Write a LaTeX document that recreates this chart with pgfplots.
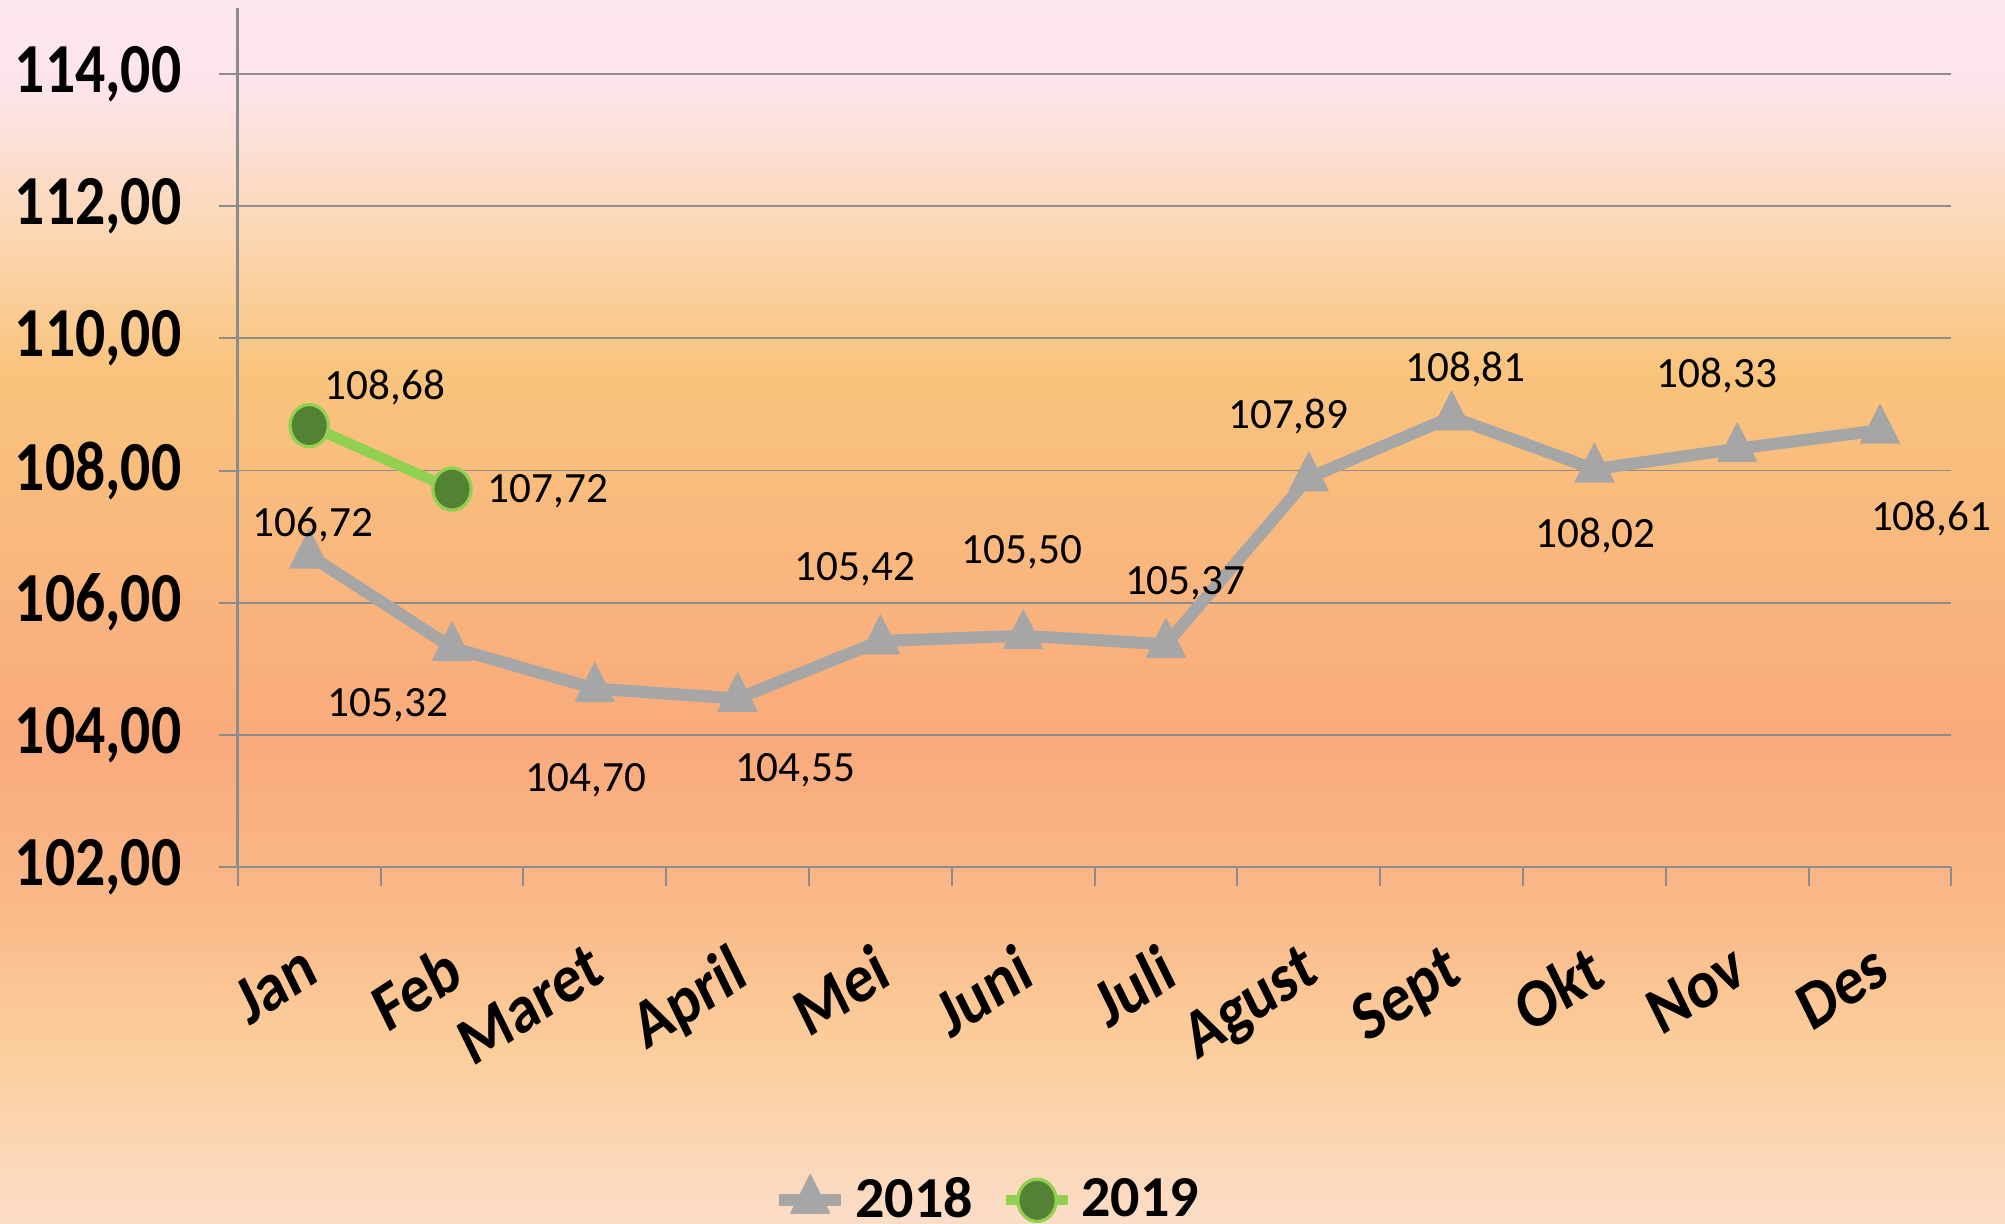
\documentclass[border=0pt]{standalone}
\usepackage{pgfplots}
\pgfplotsset{compat=1.18}
\usepackage{pgfplotstable}
\usepackage{fontspec}
\setmainfont{Carlito}
\definecolor{cTop}{HTML}{FDE7F0}
\definecolor{cA}{HTML}{FDE4EA}
\definecolor{cB}{HTML}{FBD7B4}
\definecolor{cC}{HTML}{F9C47D}
\definecolor{cD}{HTML}{F9B77D}
\definecolor{cE}{HTML}{F9AA7C}
\definecolor{cF}{HTML}{FAB888}
\definecolor{cG}{HTML}{FBCE9C}
\definecolor{cBot}{HTML}{FCDDC8}
\definecolor{axgray}{HTML}{8C8C8C}
\definecolor{c18}{HTML}{A6A6A6}
\definecolor{c19}{HTML}{92D050}
\definecolor{c19f}{HTML}{548235}
\pgfdeclareverticalshading{bgshade}{100bp}{color(0bp)=(cBot); color(25bp)=(cBot); color(32.1bp)=(cG); color(38.2bp)=(cF); color(44.75bp)=(cE); color(52.1bp)=(cD); color(59.9bp)=(cC); color(65.6bp)=(cB); color(71.3bp)=(cA); color(75bp)=(cTop); color(100bp)=(cTop)}
\pgfplotstableread{
x y lab dx dy
0 106.72 106,72 0.96 7.7
1 105.32 105,32 -16.0 -14.4
2 104.70 104,70 -2.2 -23.0
3 104.55 104,55 14.4 -17.9
4 105.42 105,42 -6.4 17.9
5 105.50 105,50 -0.3 20.8
6 105.37 105,37 4.8 15.3
7 107.89 107,89 -5.1 15.3
8 108.81 108,81 3.5 11.8
9 108.02 108,02 0.3 -16.6
10 108.33 108,33 -5.1 18.2
11 108.61 108,61 12.8 -22.1
}\dataA
\pgfplotstableread{
x y lab dx dy
0 108.68 108,68 18.9 9.6
1 107.72 107,72 24.0 -0.6
}\dataB
\begin{document}
\begin{tikzpicture}
\shade[shading=bgshade] (0,0) rectangle (501.25pt,305.75pt);
\begin{axis}[
  at={(59.45pt,89pt)}, anchor=south west,
  scale only axis, width=428.4pt, height=214.75pt,
  xmin=-0.5, xmax=11.5, ymin=102, ymax=115,
  axis x line*=bottom, axis y line*=left,
  axis line style={draw=axgray, line width=0.65pt},
  tick align=outside,
  major tick length=4.75pt,
  tick style={draw=axgray, line width=0.5pt},
  ymajorgrids=true,
  major grid style={draw=axgray, line width=0.45pt},
  ytick={102,104,106,108,110,112,114},
  yticklabel style={font=\fontsize{14.9}{16}\selectfont\bfseries, anchor=east, inner sep=0pt, xshift=-9.2pt, yscale=1.18,
    /pgf/number format/.cd, fixed, fixed zerofill, precision=2, use comma, 1000 sep={}, assume math mode=true},
  xtick={-0.5,0.5,1.5,2.5,3.5,4.5,5.5,6.5,7.5,8.5,9.5,10.5,11.5},
  xticklabels={Jan,Feb,Maret,April,Mei,Juni,Juli,Agust,Sept,Okt,Nov,Des,{}},
  xticklabel style={font=\fontsize{15}{16}\selectfont\bfseries, inner sep=0pt, xshift=16pt, yshift=-13.5pt, yscale=1.15, rotate=29.5, anchor=north east},
  clip=false,
  legend columns=2,
  legend style={at={(0.439,-0.388)}, anchor=center, draw=none, fill=none,
    font=\fontsize{14.5}{16}\selectfont\bfseries,
    /tikz/every even column/.append style={column sep=5pt}},
  legend image code/.code={\draw[#1] (0pt,0pt) -- (15.5pt,0pt); \draw[#1, only marks] plot coordinates {(7.75pt,0pt)};},
  nodes near coords style={font=\fontsize{10.8}{12}\selectfont, text=black, anchor=center, inner sep=0pt, xshift=\ldx pt, yshift=\ldy pt},
]
\addplot[color=c18, line width=3pt, line join=round, mark=triangle*, mark size=5.6pt,
  mark options={solid, yscale=1.15, fill=c18, draw=c18, line width=0.3pt},
  point meta=explicit symbolic, nodes near coords,
  visualization depends on={\thisrow{dx}\as\ldx},
  visualization depends on={\thisrow{dy}\as\ldy}]
  table[x=x, y=y, meta=lab] {\dataA};
\addlegendentry{2018}
\addplot[color=c19, line width=2.6pt, line join=round, mark=*, mark size=4.8pt,
  mark options={solid, yscale=1.1, fill=c19f, draw=c19, line width=0.8pt},
  point meta=explicit symbolic, nodes near coords,
  visualization depends on={\thisrow{dx}\as\ldx},
  visualization depends on={\thisrow{dy}\as\ldy}]
  table[x=x, y=y, meta=lab] {\dataB};
\addlegendentry{2019}
\end{axis}
\pgfresetboundingbox
\useasboundingbox (0,0) rectangle (501.25pt,305.75pt);
\end{tikzpicture}
\end{document}
